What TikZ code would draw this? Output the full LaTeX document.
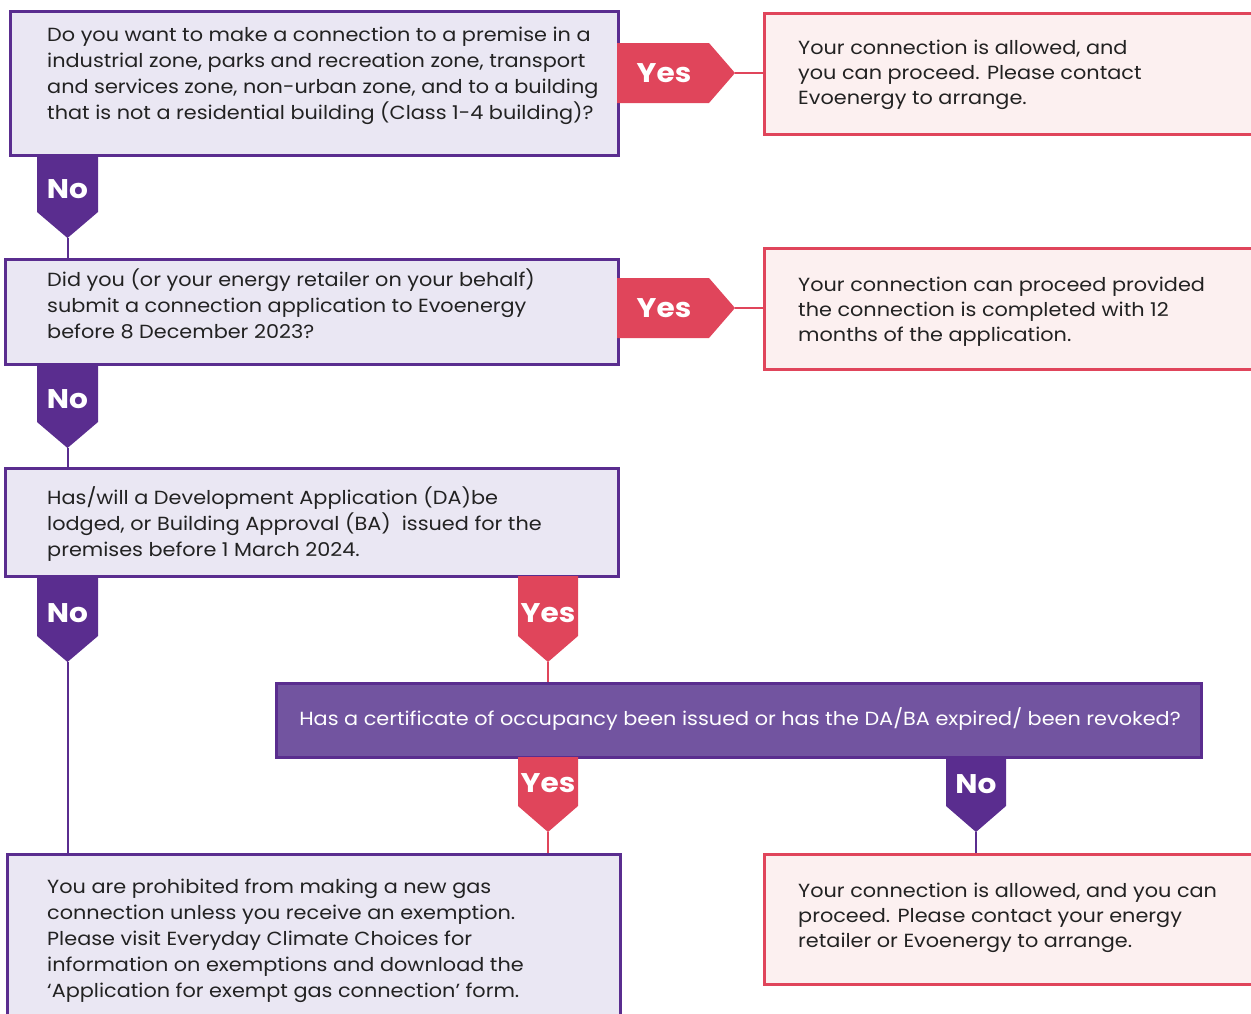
\documentclass[tikz,border=0pt]{standalone}
\usepackage{fontspec}
\setmainfont{Poppins}[FakeStretch=1.095]
\definecolor{pur}{HTML}{5A2D8F}
\definecolor{lav}{HTML}{EAE7F3}
\definecolor{red}{HTML}{E0455B}
\definecolor{pinkf}{HTML}{FCF0F0}
\definecolor{purf}{HTML}{7254A0}
\definecolor{ink}{HTML}{222222}
\tikzset{
  lavbox/.style={draw=pur, fill=lav, line width=2.5pt, inner sep=0pt, anchor=north west},
  pinkbox/.style={draw=red, fill=pinkf, line width=2.5pt, inner sep=0pt, anchor=north west},
  purbox/.style={draw=pur, fill=purf, line width=2.5pt, inner sep=0pt, anchor=north west},
  body/.style={text=ink, align=left, anchor=west, inner sep=0pt, font=\fontsize{19}{26}\selectfont},
  pbody/.style={text=ink, align=left, anchor=west, inner sep=0pt, font=\fontsize{19}{25}\selectfont},
  tagtext/.style={text=white, inner sep=0pt, font=\fontsize{27}{30}\selectfont\bfseries},
  redline/.style={draw=red, line width=2pt},
  purline/.style={draw=pur, line width=2pt},
}
\begin{document}
\begin{tikzpicture}[x=1pt,y=-1pt]
\useasboundingbox (0,0) rectangle (1251,1013);
\clip (0,0) rectangle (1251,1013);
% boxes
\node[lavbox, minimum width=608pt, minimum height=144pt] (q1) at (9,10) {};
\node[lavbox, minimum width=613pt, minimum height=105pt] (q2) at (4,258) {};
\node[lavbox, minimum width=613pt, minimum height=108pt] (q3) at (4,467) {};
\node[purbox, minimum width=925pt, minimum height=74pt] (q4) at (275,682) {};
\node[lavbox, minimum width=613pt, minimum height=180pt] (r5) at (6,853) {};
\node[pinkbox, minimum width=520pt, minimum height=121pt] (r1) at (763,12) {};
\node[pinkbox, minimum width=520pt, minimum height=121pt] (r2) at (763,247) {};
\node[pinkbox, minimum width=520pt, minimum height=130pt] (r3) at (763,853) {};
% texts
\node[body] (t1) at (47,76) {Do you want to make a connection to a premise in a\\industrial zone, parks and recreation zone, transport\\and services zone, non-urban zone, and to a building\\that is not a residential building (Class 1-4 building)?};
\node[body] (t2) at (47,304) {Did you (or your energy retailer on your behalf)\\submit a connection application to Evoenergy\\before 8 December 2023?};
\node[body] (t3) at (47,524) {Has/will a Development Application (DA)be\\lodged, or Building Approval (BA)\ \ issued for the\\premises before 1 March 2024.};
\node[body, text=white, anchor=center] (t4) at (740,719) {Has a certificate of occupancy been issued or has the DA/BA expired/ been revoked?};
\node[body] (t5) at (47,941) {You are prohibited from making a new gas\\connection unless you receive an exemption.\\Please visit Everyday Climate Choices for\\information on exemptions and download the\\‘Application for exempt gas connection’ form.};
\node[pbody] (p1) at (798,75) {Your connection is allowed, and\\you can proceed. Please contact\\Evoenergy to arrange.};
\node[pbody] (p2) at (798,312) {Your connection can proceed provided\\the connection is completed with 12\\months of the application.};
\node[pbody] (p3) at (798,918) {Your connection is allowed, and you can\\proceed. Please contact your energy\\retailer or Evoenergy to arrange.};
% right tags
\fill[red] (617,43) -- (709,43) -- (735,73) -- (709,103) -- (617,103) -- cycle;
\coordinate (y1tip) at (735,73);
\node[tagtext] (y1) at (664,73) {Yes};
\fill[red] (617,278) -- (709,278) -- (735,308) -- (709,338) -- (617,338) -- cycle;
\coordinate (y2tip) at (735,308);
\node[tagtext] (y2) at (664,308) {Yes};
% down tags
\fill[pur] (37,155) -- (98,155) -- (98,212) -- (67.5,238) -- (37,212) -- cycle;
\coordinate (n1tip) at (67.5,238);
\node[tagtext] (n1) at (67.5,189) {No};
\fill[pur] (37,364) -- (98,364) -- (98,422) -- (67.5,448) -- (37,422) -- cycle;
\coordinate (n2tip) at (67.5,448);
\node[tagtext] (n2) at (67.5,399) {No};
\fill[pur] (37,576) -- (98,576) -- (98,636) -- (67.5,662) -- (37,636) -- cycle;
\coordinate (n3tip) at (67.5,662);
\node[tagtext] (n3) at (67.5,613) {No};
\fill[red] (518,576) -- (578,576) -- (578,636) -- (548,662) -- (518,636) -- cycle;
\coordinate (y3tip) at (548,662);
\node[tagtext] (y3) at (548,613) {Yes};
\fill[red] (518,757) -- (578,757) -- (578,806) -- (548,832) -- (518,806) -- cycle;
\coordinate (y4tip) at (548,832);
\node[tagtext] (y4) at (548,783) {Yes};
\fill[pur] (946,757) -- (1006,757) -- (1006,806) -- (976,832) -- (946,806) -- cycle;
\coordinate (n4tip) at (976,832);
\node[tagtext] (n4) at (976,784) {No};
% connectors
\draw[redline] (y1tip) -- (y1tip -| r1.west);
\draw[redline] (y2tip) -- (y2tip -| r2.west);
\draw[purline] (n1tip) -- (n1tip |- q2.north);
\draw[purline] (n2tip) -- (n2tip |- q3.north);
\draw[purline] (n3tip) -- (n3tip |- r5.north);
\draw[redline] (y3tip) -- (y3tip |- q4.north);
\draw[redline] (y4tip) -- (y4tip |- r5.north);
\draw[purline] (n4tip) -- (n4tip |- r3.north);
\end{tikzpicture}
\end{document}
